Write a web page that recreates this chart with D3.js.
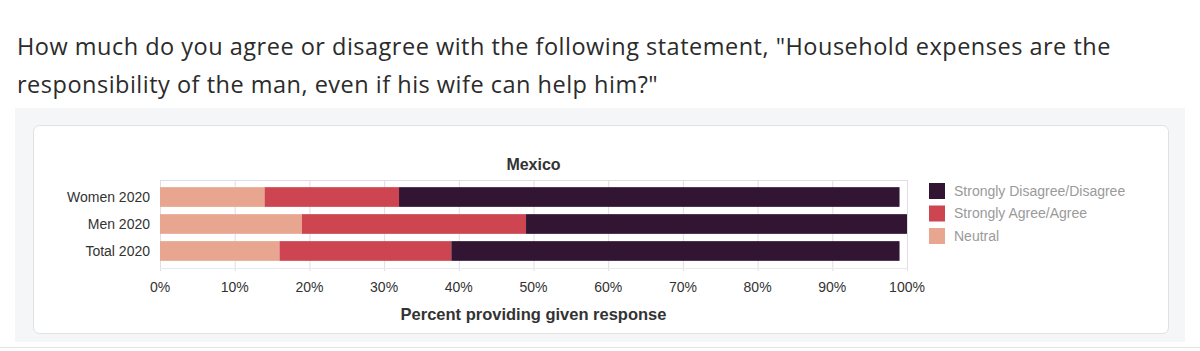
<!DOCTYPE html>
<html>
<head>
<meta charset="utf-8">
<script src="https://cdn.jsdelivr.net/npm/d3@7"></script>
<style>
  body { margin: 0; background: #fff; font-family: "Liberation Sans", Arial, sans-serif; }
  .title { position: absolute; left: 17px; top: 27px; width: 1120px; font-family: "Open Sans", sans-serif;
    font-size: 23.5px; letter-spacing: 0.5px; line-height: 38px; color: #2b2b2b; }
  .panel { position: absolute; left: 15px; top: 108px; width: 1170px; height: 234px; background: #f5f6f8; }
  .rule { position: absolute; left: 0; top: 347px; width: 1200px; height: 1px; background: #e4e4e4; }
  svg { position: absolute; left: 0; top: 0; }
</style>
</head>
<body>
<div class="title">How much do you agree or disagree with the following statement, "Household expenses are the responsibility of the man, even if his wife can help him?"</div>
<div class="panel"></div>
<div class="rule"></div>
<div id="chart"></div>
<script>
// Data
const groups = ["Women 2020", "Men 2020", "Total 2020"];
const neutral = [14, 19, 16];
const agree = [18, 30, 23];
const disagree = [67, 51, 60];
const keys = ["Neutral", "Strongly Agree/Agree", "Strongly Disagree/Disagree"];
const colors = ["#e8a691", "#cc4550", "#321433"];
const ticks = [0, 10, 20, 30, 40, 50, 60, 70, 80, 90, 100];

const width = 1200, height = 351;
const margin = {top: 180, right: 293, bottom: 83, left: 160};

const svg = d3.select("#chart").append("svg")
    .attr("width", width)
    .attr("height", height);

// Card
svg.append("rect")
    .attr("x", 33.5).attr("y", 125.5)
    .attr("width", 1135).attr("height", 208)
    .attr("rx", 6)
    .attr("fill", "#fff")
    .attr("stroke", "#dfe1e5");

const rows = groups.map((g, i) => ({group: g, "Neutral": neutral[i], "Strongly Agree/Agree": agree[i], "Strongly Disagree/Disagree": disagree[i]}));
const stacked = d3.stack().keys(keys)(rows);

let x = d3.scaleLinear()
    .domain([0, 100])
    .range([margin.left, width - margin.right]);

let y = d3.scaleBand()
    .domain(groups)
    .range([margin.top + 5, height - margin.bottom - 5])
    .paddingInner(0.27)
    .paddingOuter(0.08);

// Grid lines
svg.append("g")
    .selectAll("line")
    .data(ticks)
    .join("line")
    .attr("x1", d => x(d) + 0.5).attr("x2", d => x(d) + 0.5)
    .attr("y1", margin.top).attr("y2", height - margin.bottom + 3)
    .attr("stroke", "#e2dce6");

svg.append("line")
    .attr("x1", x(0)).attr("x2", x(100) + 1)
    .attr("y1", margin.top + 0.5).attr("y2", margin.top + 0.5)
    .attr("stroke", "#e2dce6");
svg.append("line")
    .attr("x1", x(0)).attr("x2", x(100) + 1)
    .attr("y1", height - margin.bottom + 0.5).attr("y2", height - margin.bottom + 0.5)
    .attr("stroke", "#ebe7ee");

// Bars
svg.append("g")
    .selectAll("g")
    .data(stacked)
    .join("g")
    .attr("fill", (d, i) => colors[i])
    .selectAll("rect")
    .data(d => d)
    .join("rect")
    .attr("x", d => x(d[0]))
    .attr("y", d => y(d.data.group))
    .attr("width", d => x(d[1]) - x(d[0]))
    .attr("height", y.bandwidth());

// Y labels
svg.append("g")
    .selectAll("text")
    .data(groups)
    .join("text")
    .attr("x", margin.left - 10)
    .attr("y", d => y(d) + y.bandwidth() / 2 + 1)
    .attr("dominant-baseline", "middle")
    .attr("text-anchor", "end")
    .attr("fill", "#333")
    .style("font-size", "14px")
    .text(d => d);

// X tick labels
svg.append("g")
    .selectAll("text")
    .data(ticks)
    .join("text")
    .attr("x", d => x(d))
    .attr("y", 292)
    .attr("text-anchor", "middle")
    .attr("fill", "#333")
    .style("font-size", "14px")
    .text(d => d + "%");

// Chart title
svg.append("text")
    .attr("x", (x(0) + x(100)) / 2)
    .attr("y", 170)
    .attr("text-anchor", "middle")
    .attr("fill", "#333")
    .attr("font-weight", 700)
    .style("font-size", "16px")
    .text("Mexico");

// X-axis label
svg.append("text")
    .attr("x", (x(0) + x(100)) / 2)
    .attr("y", 320)
    .attr("text-anchor", "middle")
    .attr("fill", "#333")
    .attr("font-weight", 700)
    .style("font-size", "16.5px")
    .text("Percent providing given response");

// Legend
const legend = svg.append("g")
    .selectAll("g")
    .data(keys.slice().reverse())
    .join("g")
    .attr("transform", (d, i) => `translate(929,${183 + i * 22.5})`);

legend.append("rect")
    .attr("width", 16).attr("height", 16)
    .attr("fill", d => colors[keys.indexOf(d)]);

legend.append("text")
    .attr("x", 25).attr("y", 9)
    .attr("dominant-baseline", "middle")
    .attr("fill", "#9a9a9a")
    .style("font-size", "14px")
    .text(d => d);
</script>
</body>
</html>
